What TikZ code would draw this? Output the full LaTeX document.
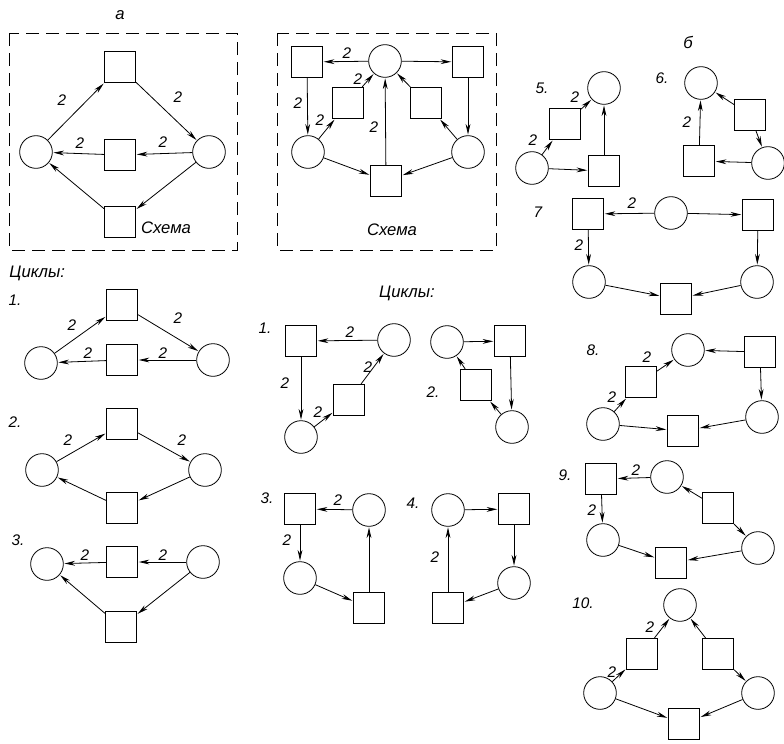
\documentclass[tikz,border=0pt]{standalone}
\usepackage{fontspec}
\setmainfont{Liberation Sans}
\usetikzlibrary{arrows.meta}
\tikzset{
 pl/.style={circle,draw,minimum size=24.5pt,inner sep=0pt},
 tr/.style={rectangle,draw,minimum size=23.5pt,inner sep=0pt},
 arc/.style={draw,-{Stealth[length=8pt,width=3.6pt]},shorten >=0.5pt},
 lab/.style={font=\itshape\fontsize{11.5}{13}\selectfont,inner sep=0pt},
 ttl/.style={font=\itshape\fontsize{12.5}{14}\selectfont,inner sep=0pt},
 dbox/.style={draw,dash pattern=on 10pt off 5pt}
}
\begin{document}
\begin{tikzpicture}[x=0.75pt,y=-0.75pt,line width=0.6pt]
\useasboundingbox (0,0) rectangle (784,743);
% ---------- panel a ----------
\node[ttl] (ta) at (120,15) {а};
\draw[dbox] (9,33) rectangle (237,250);
\node[tr] (A1) at (120,67) {};
\node[pl] (A2) at (36,152) {};
\node[pl] (A3) at (209,152) {};
\node[tr] (A4) at (120,155) {};
\node[tr] (A5) at (120,222) {};
\node[ttl] (sa) at (166,228) {Схема};
\draw[arc] (A2) -- (A1);
\draw[arc] (A1) -- (A3);
\draw[arc] (A3) -- (A4);
\draw[arc] (A4) -- (A2);
\draw[arc] (A3) -- (A5);
\draw[arc] (A5) -- (A2);
\node[lab] (la1) at (62,100) {2};
\node[lab] (la2) at (178,97) {2};
\node[lab] (la3) at (80,143) {2};
\node[lab] (la4) at (163,142) {2};
% ---------- scheme 2 ----------
\draw[dbox] (277,33) rectangle (496,250);
\node[tr] (B1) at (307,62) {};
\node[pl] (B2) at (385,61) {};
\node[tr] (B3) at (468,62) {};
\node[tr] (B4) at (348,103) {};
\node[tr] (B5) at (426,103) {};
\node[pl] (B6) at (308,152) {};
\node[pl] (B7) at (468,152) {};
\node[tr] (B8) at (386,181) {};
\node[ttl] (sb) at (392,230) {Схема};
\draw[arc] (B2) -- (B1);
\draw[arc] (B1) -- (B6);
\draw[arc] (B6) -- (B4);
\draw[arc] (B4) -- (B2);
\draw[arc] (B2) -- (B3);
\draw[arc] (B3) -- (B7);
\draw[arc] (B7) -- (B5);
\draw[arc] (B5) -- (B2);
\draw[arc] (B6) -- (B8);
\draw[arc] (B7) -- (B8);
\draw[arc] (B8) -- (B2);
\node[lab] (lb1) at (347,53) {2};
\node[lab] (lb2) at (358,79) {2};
\node[lab] (lb3) at (298,103) {2};
\node[lab] (lb4) at (320,120) {2};
\node[lab] (lb5) at (374,127) {2};
% ---------- panel b ----------
\node[ttl] (tb) at (688,42) {б};
% cycle 5
\node[lab] (n5) at (542,88) {5.};
\node[pl] (C5a) at (604,88) {};
\node[tr] (C5b) at (565,124) {};
\node[pl] (C5c) at (532,168) {};
\node[tr] (C5d) at (604,171) {};
\draw[arc] (C5c) -- (C5b);
\draw[arc] (C5b) -- (C5a);
\draw[arc] (C5c) -- (C5d);
\draw[arc] (C5d) -- (C5a);
\node[lab] (l51) at (575,97) {2};
\node[lab] (l52) at (533,140) {2};
% cycle 6
\node[lab] (n6) at (662,78) {6.};
\node[pl] (C6a) at (701,83) {};
\node[tr] (C6b) at (750,115) {};
\node[pl] (C6c) at (768,163) {};
\node[tr] (C6d) at (699,161) {};
\draw[arc] (C6d) -- (C6a);
\draw[arc] (C6b) -- (C6a);
\draw[arc] (C6b) -- (C6c);
\draw[arc] (C6c) -- (C6d);
\node[lab] (l61) at (687,122) {2};
% cycle 7
\node[lab] (n7) at (538,212) {7};
\node[tr] (C7a) at (588,214) {};
\node[pl] (C7b) at (671,213) {};
\node[tr] (C7c) at (758,215) {};
\node[pl] (C7d) at (589,282) {};
\node[pl] (C7e) at (757,282) {};
\node[tr] (C7f) at (676,299) {};
\draw[arc] (C7b) -- (C7a);
\draw[arc] (C7a) -- (C7d);
\draw[arc] (C7b) -- (C7c);
\draw[arc] (C7c) -- (C7e);
\draw[arc] (C7d) -- (C7f);
\draw[arc] (C7e) -- (C7f);
\node[lab] (l71) at (632,203) {2};
\node[lab] (l72) at (579,245) {2};
% cycle 8
\node[lab] (n8) at (593,350) {8.};
\node[pl] (C8a) at (688,350) {};
\node[tr] (C8b) at (760,352) {};
\node[tr] (C8c) at (641,382) {};
\node[pl] (C8d) at (762,417) {};
\node[pl] (C8e) at (603,424) {};
\node[tr] (C8f) at (683,431) {};
\draw[arc] (C8b) -- (C8a);
\draw[arc] (C8b) -- (C8d);
\draw[arc] (C8e) -- (C8c);
\draw[arc] (C8c) -- (C8a);
\draw[arc] (C8e) -- (C8f);
\draw[arc] (C8d) -- (C8f);
\node[lab] (l81) at (647,357) {2};
\node[lab] (l82) at (612,397) {2};
% cycle 9
\node[lab] (n9) at (565,475) {9.};
\node[tr] (C9a) at (601,479) {};
\node[pl] (C9b) at (667,477) {};
\node[tr] (C9c) at (718,508) {};
\node[pl] (C9d) at (603,540) {};
\node[pl] (C9e) at (758,548) {};
\node[tr] (C9f) at (671,563) {};
\draw[arc] (C9b) -- (C9a);
\draw[arc] (C9a) -- (C9d);
\draw[arc] (C9c) -- (C9b);
\draw[arc] (C9c) -- (C9e);
\draw[arc] (C9d) -- (C9f);
\draw[arc] (C9e) -- (C9f);
\node[lab] (l91) at (636,470) {2};
\node[lab] (l92) at (592,510) {2};
% cycle 10
\node[lab] (n10) at (583,603) {10.};
\node[pl] (C10a) at (680,605) {};
\node[tr] (C10b) at (642,654) {};
\node[tr] (C10c) at (718,654) {};
\node[pl] (C10d) at (600,693) {};
\node[pl] (C10e) at (758,693) {};
\node[tr] (C10f) at (684,724) {};
\draw[arc] (C10d) -- (C10b);
\draw[arc] (C10b) -- (C10a);
\draw[arc] (C10c) -- (C10a);
\draw[arc] (C10c) -- (C10e);
\draw[arc] (C10d) -- (C10f);
\draw[arc] (C10e) -- (C10f);
\node[lab] (l101) at (650,627) {2};
\node[lab] (l102) at (612,672) {2};
% ---------- cycles of a ----------
\node[ttl,anchor=west] (cy1) at (9,273) {Циклы:};
\node[lab] (m1) at (15,300) {1.};
\node[tr] (D1a) at (122,305) {};
\node[pl] (D1b) at (41,363) {};
\node[pl] (D1c) at (213,360) {};
\node[tr] (D1d) at (122,360) {};
\draw[arc] (D1b) -- (D1a);
\draw[arc] (D1a) -- (D1c);
\draw[arc] (D1c) -- (D1d);
\draw[arc] (D1d) -- (D1b);
\node[lab] (ld1) at (72,325) {2};
\node[lab] (ld2) at (178,318) {2};
\node[lab] (ld3) at (88,353) {2};
\node[lab] (ld4) at (163,353) {2};
\node[lab] (m2) at (15,422) {2.};
\node[tr] (D2a) at (122,424) {};
\node[pl] (D2b) at (42,470) {};
\node[pl] (D2c) at (205,470) {};
\node[tr] (D2d) at (122,508) {};
\draw[arc] (D2b) -- (D2a);
\draw[arc] (D2a) -- (D2c);
\draw[arc] (D2c) -- (D2d);
\draw[arc] (D2d) -- (D2b);
\node[lab] (ld5) at (68,440) {2};
\node[lab] (ld6) at (182,440) {2};
\node[lab] (m3) at (18,540) {3.};
\node[pl] (D3a) at (47,564) {};
\node[tr] (D3b) at (122,562) {};
\node[pl] (D3c) at (203,562) {};
\node[tr] (D3d) at (121,627) {};
\draw[arc] (D3b) -- (D3a);
\draw[arc] (D3c) -- (D3b);
\draw[arc] (D3c) -- (D3d);
\draw[arc] (D3d) -- (D3a);
\node[lab] (ld7) at (85,555) {2};
\node[lab] (ld8) at (163,555) {2};
% ---------- cycles of scheme 2 ----------
\node[ttl] (cy2) at (407,293) {Циклы:};
\node[lab] (k1) at (265,328) {1.};
\node[tr] (E1a) at (301,341) {};
\node[pl] (E1b) at (394,340) {};
\node[pl] (E1c) at (301,437) {};
\node[tr] (E1d) at (349,400) {};
\draw[arc] (E1b) -- (E1a);
\draw[arc] (E1a) -- (E1c);
\draw[arc] (E1c) -- (E1d);
\draw[arc] (E1d) -- (E1b);
\node[lab] (le1) at (350,332) {2};
\node[lab] (le2) at (368,367) {2};
\node[lab] (le3) at (285,383) {2};
\node[lab] (le4) at (318,412) {2};
\node[lab] (k2) at (433,392) {2.};
\node[pl] (E2a) at (447,342) {};
\node[tr] (E2b) at (510,341) {};
\node[tr] (E2c) at (476,385) {};
\node[pl] (E2d) at (512,427) {};
\draw[arc] (E2a) -- (E2b);
\draw[arc] (E2b) -- (E2d);
\draw[arc] (E2d) -- (E2c);
\draw[arc] (E2c) -- (E2a);
\node[lab] (k3) at (267,498) {3.};
\node[tr] (E3a) at (300,509) {};
\node[pl] (E3b) at (369,510) {};
\node[pl] (E3c) at (300,578) {};
\node[tr] (E3d) at (369,608) {};
\draw[arc] (E3b) -- (E3a);
\draw[arc] (E3a) -- (E3c);
\draw[arc] (E3c) -- (E3d);
\draw[arc] (E3d) -- (E3b);
\node[lab] (le5) at (338,500) {2};
\node[lab] (le6) at (287,540) {2};
\node[lab] (k4) at (413,503) {4.};
\node[pl] (E4a) at (448,510) {};
\node[tr] (E4b) at (514,509) {};
\node[pl] (E4c) at (514,583) {};
\node[tr] (E4d) at (448,608) {};
\draw[arc] (E4a) -- (E4b);
\draw[arc] (E4b) -- (E4c);
\draw[arc] (E4c) -- (E4d);
\draw[arc] (E4d) -- (E4a);
\node[lab] (le7) at (435,557) {2};
\end{tikzpicture}
\end{document}
